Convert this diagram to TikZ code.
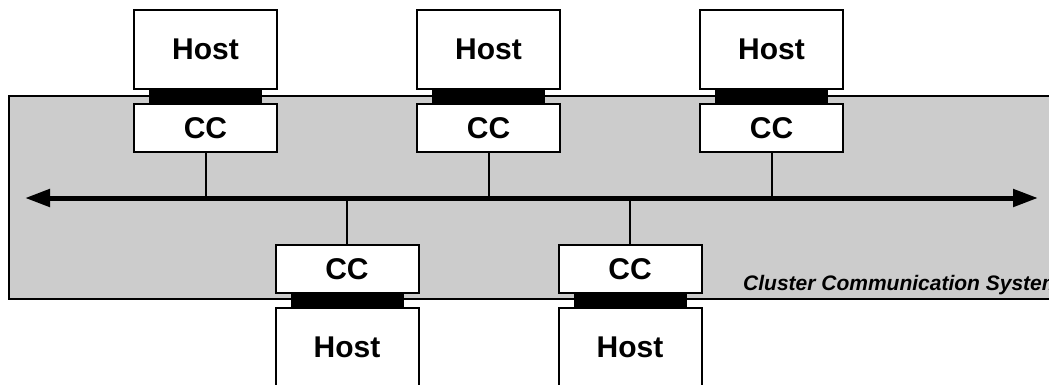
\documentclass[tikz,border=0pt]{standalone}
\usepackage{fontspec}
\setmainfont{Liberation Sans}
\usetikzlibrary{arrows.meta}
\definecolor{csgray}{HTML}{CCCCCC}
\tikzset{
  box/.style={draw=black, line width=2pt, fill=white, inner sep=0pt,
    minimum width=143pt, font=\bfseries\fontsize{30}{30}\selectfont},
  hostbox/.style={box, minimum height=79pt},
  ccbox/.style={box, minimum height=48pt},
  plug/.style={fill=black, draw=none, inner sep=0pt, minimum width=113pt, minimum height=16pt},
  tap/.style={line width=2pt},
  bus/.style={line width=5pt, {Triangle[length=25pt,width=17pt]}-{Triangle[length=25pt,width=17pt]}}
}
\begin{document}
\begin{tikzpicture}[x=1pt, y=-1pt]
\useasboundingbox (0,0) rectangle (1049,385);
\clip (0,0) rectangle (1049,385);
% cluster communication system area
\fill[csgray] (9,96) rectangle (1070,299);
\draw[line width=2pt] (1070,96) -- (9,96) -- (9,299) -- (1070,299);
\node[anchor=base west, inner sep=0pt, font=\bfseries\itshape\fontsize{21}{21}\selectfont] (label) at (743,290) {Cluster Communication System};
% bus
\coordinate (busL) at (25,198);
\coordinate (busR) at (1038,198);
\draw[bus] (busL) -- (busR);
% upper hosts
\foreach \i/\x in {1/205.5, 2/488.5, 3/771.5} {
  \node[plug] (tp\i) at (\x,97) {};
  \node[hostbox] (th\i) at (\x,49.5) {Host};
  \node[ccbox] (tc\i) at (\x,128) {CC};
  \draw[tap] (tc\i.south) -- (tc\i.south |- busL);
}
% lower hosts
\foreach \i/\x in {1/347, 2/630} {
  \node[plug] (bp\i) at (\x,300) {};
  \node[hostbox] (bh\i) at (\x,347.5) {Host};
  \node[ccbox] (bc\i) at (\x,269) {CC};
  \draw[tap] (bc\i.north) -- (bc\i.north |- busL);
}
\end{tikzpicture}
\end{document}
